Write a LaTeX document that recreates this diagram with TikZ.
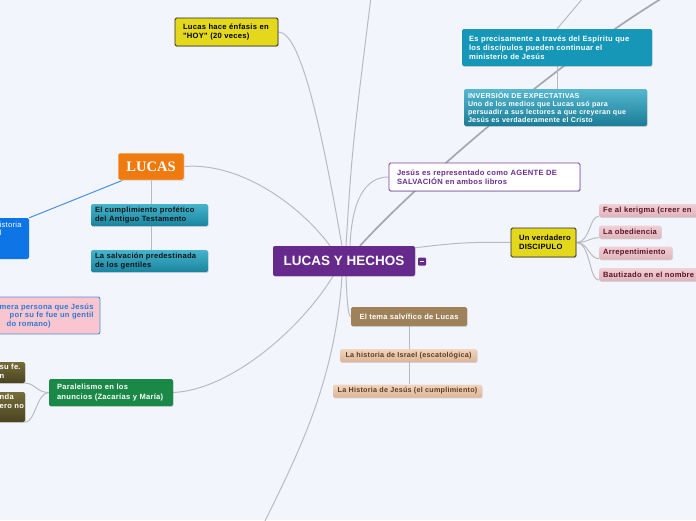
\documentclass[tikz,border=0pt]{standalone}
\usepackage{fontspec}
\setmainfont{Liberation Sans}
\newfontfamily\serifx{Liberation Serif}
\newfontfamily\boxf[LetterSpace=3.5]{Liberation Sans}
\usetikzlibrary{shadows}
\pgfdeclarelayer{lines}
\pgfsetlayers{lines,main}
\newcommand{\NBx}[1]{\mbox{#1}}
\definecolor{bgc}{HTML}{F3F5FD}
\definecolor{linec}{HTML}{BBBBBF}
\definecolor{diagc}{HTML}{A8A8AC}
\definecolor{mainp}{HTML}{66298C}
\definecolor{yelc}{HTML}{E4D81C}
\definecolor{darkc}{HTML}{2A2A2A}
\definecolor{orc}{HTML}{EE7A10}
\definecolor{tealt}{HTML}{45B4CC}
\definecolor{tealbt}{HTML}{1A849E}
\definecolor{tealtx}{HTML}{141414}
\definecolor{bluec}{HTML}{0D75E6}
\definecolor{bluel}{HTML}{4A8FE0}
\definecolor{pinkc}{HTML}{F9C5D0}
\definecolor{pinkbd}{HTML}{4D90DA}
\definecolor{pinktx}{HTML}{2D7AD0}
\definecolor{greenc}{HTML}{1A8846}
\definecolor{olt}{HTML}{756D3A}
\definecolor{olb}{HTML}{4A4320}
\definecolor{purbd}{HTML}{7B3F9E}
\definecolor{purtx}{HTML}{6A2D90}
\definecolor{espc}{HTML}{1697B8}
\definecolor{invt}{HTML}{55B8CF}
\definecolor{invb}{HTML}{1A7C96}
\definecolor{pkt}{HTML}{EFD0D4}
\definecolor{pkb}{HTML}{E0B4BB}
\definecolor{pktx}{HTML}{5C1428}
\definecolor{temac}{HTML}{A0825A}
\definecolor{tnt}{HTML}{F0D5BF}
\definecolor{tnb}{HTML}{DDB597}
\definecolor{tntx}{HTML}{5E3C1E}
\begin{document}
\begin{tikzpicture}[x=1pt,y=-1pt,
  box/.style={rectangle, rounded corners=1.5pt, align=left, inner ysep=0pt,
    font=\boxf\bfseries\fontsize{7.6}{9.2}\selectfont},
  sh/.style={drop shadow={shadow xshift=0.6pt, shadow yshift=-0.9pt, opacity=0.28}},
  conn/.style={draw=linec, line width=1pt},
  tealbox/.style={top color=tealt, bottom color=tealbt, text=tealtx},
  pinkitem/.style={box, sh, top color=pkt, bottom color=pkb, text=pktx, anchor=west,
    minimum height=13pt, inner xsep=4pt},
  tanitem/.style={rectangle, rounded corners=1.5pt, sh, top color=tnt, bottom color=tnb,
    text=tntx, minimum height=13pt, inner sep=0pt, font=\boxf\bfseries\fontsize{7.2}{9}\selectfont},
  cuttext/.style={anchor=north west, inner sep=0pt, align=left},
]
\useasboundingbox (0,0) rectangle (696,520);

% ---------- nodes ----------
\node[sh, fill=mainp, rounded corners=2pt, minimum width=142pt, minimum height=30pt,
  inner sep=0pt, text=white, font=\bfseries\fontsize{13.5}{15}\selectfont] (main) at (344,261) {LUCAS Y HECHOS};
\node[fill=mainp, rounded corners=1pt, minimum width=8pt, minimum height=8pt, inner sep=0pt] (icon) at (422,261.5) {};

\node[box, sh, fill=yelc, draw=darkc, line width=0.8pt, minimum width=103pt, minimum height=28pt,
  text width=87pt, inner xsep=8pt] (hoy) at (226.5,32) {\NBx{Lucas hace énfasis en}\\\NBx{"HOY" (20 veces)}};

\node[sh, fill=orc, draw=white, line width=0.5pt, rounded corners=2pt, minimum width=66pt,
  minimum height=27pt, inner sep=0pt, text=white,
  font=\serifx\bfseries\fontsize{14.5}{16}\selectfont] (lucas) at (151,166.5) {LUCAS};

\node[box, sh, tealbox, minimum width=117pt, minimum height=22pt, text width=109pt, inner xsep=4pt]
  (cump) at (149.5,215) {\NBx{El cumplimiento profético}\\\NBx{del Antiguo Testamento}};
\node[box, sh, tealbox, minimum width=117pt, minimum height=22pt, text width=109pt, inner xsep=4pt]
  (salv) at (149.5,261) {\NBx{La salvación predestinada}\\\NBx{de los gentiles}};

\node[fill=bluec, rounded corners=2pt, minimum width=70pt, minimum height=41pt, inner sep=0pt]
  (bluebox) at (-6,238.5) {};
\node[cuttext, text=white, font=\boxf\fontsize{7.6}{8.3}\selectfont] (bluetext) at (-0.5,221.3) {istoria\\l};

\node[fill=pinkc, draw=pinkbd, line width=0.9pt, rounded corners=2pt, minimum width=160pt,
  minimum height=37pt, inner sep=0pt] (pinkbox) at (20,315.5) {};
\node[cuttext, text=pinktx, font=\boxf\bfseries\fontsize{7.6}{8.6}\selectfont] (pinktext) at (-0.5,303.5)
  {mera persona que Jesús\\\hspace*{10pt}por su fe fue un gentil\\\hspace*{7pt}do romano)};

\node[box, sh, fill=greenc, text=white, minimum width=124pt, minimum height=27pt, text width=108pt,
  inner xsep=8pt] (par) at (111,392.5) {\NBx{Paralelismo en los}\\\NBx{anuncios (Zacarías y María)}};

\node[sh, top color=olt, bottom color=olb, rounded corners=2pt, minimum width=66pt,
  minimum height=21pt, inner sep=0pt] (ol1) at (-8,372.5) {};
\node[cuttext, text=white, font=\boxf\bfseries\fontsize{7.6}{9}\selectfont] (ol1t) at (-0.5,363.5) {su fe.\\n};
\node[sh, top color=olt, bottom color=olb, rounded corners=2pt, minimum width=66pt,
  minimum height=30pt, inner sep=0pt] (ol2) at (-8,407) {};
\node[cuttext, text=white, font=\boxf\bfseries\fontsize{7.6}{9}\selectfont] (ol2t) at (-0.5,393.5) {nda\\ero no};

\node[box, sh, fill=white, draw=purbd, line width=0.9pt, text=purtx, minimum width=191pt,
  minimum height=28pt, text width=175pt, inner xsep=8pt] (jesus) at (484.5,177)
  {\NBx{Jesús es representado como AGENTE DE}\\\NBx{SALVACIÓN en ambos libros}};

\node[box, sh, fill=espc, text=white, minimum width=190pt, minimum height=37pt, text width=176pt,
  inner xsep=7pt, font=\boxf\bfseries\fontsize{7.6}{9}\selectfont] (espiritu) at (557,47.5)
  {\NBx{Es precisamente a través del Espíritu que}\\\NBx{los discípulos pueden continuar el}\\\NBx{ministerio de Jesús}};

\node[box, sh, top color=invt, bottom color=invb, text=white, minimum width=183pt, minimum height=37pt,
  text width=175pt, inner xsep=4pt, font=\boxf\bfseries\fontsize{7.1}{8.1}\selectfont] (inversion) at (555.5,107.5)
  {\NBx{INVERSIÓN DE EXPECTATIVAS}\\\NBx{Uno de los medios que Lucas usó para}\\\NBx{persuadir a sus lectores a que creyeran que}\\\NBx{Jesús es verdaderamente el Cristo}};

\node[box, sh, fill=yelc, draw=darkc, line width=0.8pt, minimum width=65pt, minimum height=29pt,
  text width=49pt, inner xsep=8pt] (disc) at (543.5,242.5) {\NBx{Un verdadero}\\\NBx{DISCIPULO}};

\node[pinkitem, minimum width=122pt, text width=114pt] (fe) at (599,210.5) {\NBx{Fe al kerigma (creer en}};
\node[pinkitem, minimum width=62pt, text width=54pt] (obed) at (599,232) {\NBx{La obediencia}};
\node[pinkitem, minimum width=73pt, text width=65pt] (arre) at (599,253) {\NBx{Arrepentimiento}};
\node[pinkitem, minimum width=122pt, text width=114pt] (baut) at (599,274.5) {\NBx{Bautizado en el nombre}};

\node[sh, fill=temac, text=white, rounded corners=1.5pt, minimum width=116pt, minimum height=19pt,
  inner sep=0pt, font=\boxf\bfseries\fontsize{7.5}{9}\selectfont] (tema) at (409,316.5) {El tema salvífico de Lucas};
\node[tanitem, minimum width=137pt] (israel) at (408.5,355.5) {La historia de Israel (escatológica)};
\node[tanitem, minimum width=149pt] (hjesus) at (407.5,391) {La Historia de Jesús (el cumplimiento)};

\coordinate (upend) at (371,-3);
\coordinate (diagend) at (664,-3);
\coordinate (botend) at (264,523);
\coordinate (espup) at (584,-3);

% ---------- connectors (behind) ----------
\begin{pgfonlayer}{lines}
\fill[bgc] (0,0) rectangle (696,520);
\draw[diagc, line width=1.7pt] ([xshift=16pt]main.north) .. controls (420,180) and (560,60) .. (diagend);
\draw[conn] ([xshift=2pt]main.north) .. controls (352,150) .. (upend);
\draw[conn] (hoy.east) .. controls (300,32) and (320,120) .. ([xshift=-2pt]main.north);
\draw[conn] (lucas.east) .. controls (240,162) and (300,205) .. ([xshift=-14pt]main.north);
\draw[conn] ([xshift=6pt]main.north) .. controls (352,200) and (365,177) .. (jesus.west);
\draw[conn] ([yshift=-2pt]main.north east) .. controls (460,242) and (480,242) .. (disc.west);
\draw[conn] (par.east) .. controls (230,390) and (300,330) .. ([xshift=-11pt]main.south);
\draw[conn] ([xshift=-2pt]main.south) .. controls (335,380) and (300,450) .. (botend);
\draw[conn] ([xshift=2pt]main.south) .. controls (347,300) and (348,316) .. (tema.west);
\draw[conn] (lucas.south) -- (lucas.south |- salv.north);
\draw[draw=bluel, line width=1pt] ([xshift=5pt]lucas.south west) -- (bluebox.north east);
\draw[conn] (tema.south) -- (tema.south |- hjesus.north);
\draw[conn] (espup) -- (espiritu.north);
\draw[conn] (espiritu.south) -- (espiritu.south |- inversion.north);
\draw[conn] (disc.east) .. controls +(14,0) and +(-10,0) .. ([yshift=1pt]fe.south west);
\draw[conn] (disc.east) .. controls +(12,0) and +(-10,0) .. ([yshift=1pt]obed.south west);
\draw[conn] (disc.east) .. controls +(12,0) and +(-10,0) .. ([yshift=1pt]arre.south west);
\draw[conn] (disc.east) .. controls +(14,0) and +(-10,0) .. ([yshift=1pt]baut.south west);
\draw[conn] (par.west) .. controls +(-12,0) and +(10,0) .. (ol1.south east);
\draw[conn] (par.west) .. controls +(-12,0) and +(10,0) .. (ol2.south east);
\end{pgfonlayer}
\draw[white, line width=0.8pt] ([xshift=-2pt]icon.center) -- ([xshift=2pt]icon.center);
\end{tikzpicture}
\end{document}
